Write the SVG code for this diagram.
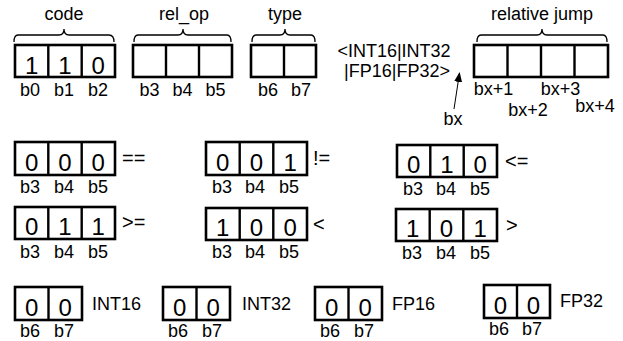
<svg xmlns="http://www.w3.org/2000/svg" width="623" height="341" viewBox="0 0 623 341">
<defs>
<style>
.box{fill:#fff;stroke:#000;stroke-width:2.6}
.div{stroke:#000;stroke-width:2.4}
.br{fill:none;stroke:#000;stroke-width:1.3}
.dg{font-family:"Liberation Sans",Arial,sans-serif;font-size:24px;text-anchor:middle;fill:#000}
.lb{font-family:"Liberation Sans",Arial,sans-serif;font-size:18px;text-anchor:middle;fill:#000}
.tt{font-family:"Liberation Sans",Arial,sans-serif;font-size:18px;fill:#000}
.op{font-family:"Liberation Sans",Arial,sans-serif;font-size:20px;fill:#000}
</style>
<marker id="ah" markerWidth="10" markerHeight="8" refX="9" refY="4" orient="auto" markerUnits="userSpaceOnUse">
<path d="M0,0 L10,4 L0,8 Z" fill="#000"/>
</marker>
</defs>
<rect width="623" height="341" fill="#fff"/>

<g id="code">
<text class="tt" x="64" y="20" text-anchor="middle">code</text>
<path class="br" d="M14,42 Q14,35 18,35 L59,35 Q64,35 64,29 Q64,35 69,35 L109,35 Q114,35 114,42"/>
<rect class="box" x="15" y="45" width="100" height="32"/>
<line class="div" x1="48.3" y1="45" x2="48.3" y2="77"/>
<line class="div" x1="81.7" y1="45" x2="81.7" y2="77"/>
<text class="dg" x="31.7" y="74">1</text><text class="dg" x="65" y="74">1</text><text class="dg" x="98.3" y="74">0</text>
<text class="lb" x="30" y="96">b0</text><text class="lb" x="64" y="96">b1</text><text class="lb" x="98" y="96">b2</text>
</g>

<g id="rel_op">
<text class="tt" x="184" y="20" text-anchor="middle">rel_op</text>
<path class="br" d="M134,42 Q134,35 138,35 L178,35 Q183,35 183,29 Q183,35 188,35 L227,35 Q231,35 231,42"/>
<rect class="box" x="133" y="45" width="99" height="32"/>
<line class="div" x1="166" y1="45" x2="166" y2="77"/>
<line class="div" x1="199" y1="45" x2="199" y2="77"/>
<text class="lb" x="149.5" y="96">b3</text><text class="lb" x="182.5" y="96">b4</text><text class="lb" x="215.5" y="96">b5</text>
</g>

<g id="type">
<text class="tt" x="285" y="20" text-anchor="middle">type</text>
<path class="br" d="M252,42 Q252,35 256,35 L280,35 Q285,35 285,29 Q285,35 290,35 L311,35 Q315,35 315,42"/>
<rect class="box" x="251" y="45" width="65" height="32"/>
<line class="div" x1="284" y1="45" x2="284" y2="77"/>
<text class="lb" x="268" y="96">b6</text><text class="lb" x="301" y="96">b7</text>
</g>

<g id="types_text">
<text class="tt" x="394" y="57" text-anchor="middle" font-size="17">&lt;INT16|INT32</text>
<text class="tt" x="397" y="77" text-anchor="middle" font-size="17">|FP16|FP32&gt;</text>
</g>

<g id="relative_jump">
<text class="tt" x="542" y="20" text-anchor="middle">relative jump</text>
<path class="br" d="M477,42 Q477,35 481,35 L537,35 Q542,35 542,29 Q542,35 547,35 L603,35 Q607,35 607,42"/>
<rect class="box" x="474" y="45" width="134" height="32"/>
<line class="div" x1="507.5" y1="45" x2="507.5" y2="77"/>
<line class="div" x1="541" y1="45" x2="541" y2="77"/>
<line class="div" x1="574.5" y1="45" x2="574.5" y2="77"/>
<text class="lb" x="493.5" y="95">bx+1</text>
<text class="lb" x="528" y="116">bx+2</text>
<text class="lb" x="560.5" y="95">bx+3</text>
<text class="lb" x="595" y="112">bx+4</text>
</g>

<g id="bx">
<text class="lb" x="453" y="125">bx</text>
</g>

<g id="connectors">
<line x1="454" y1="109" x2="459.5" y2="73" stroke="#000" stroke-width="1" marker-end="url(#ah)"/>
</g>

<g id="op_eq">
<rect class="box" x="15" y="142" width="100" height="33"/>
<line class="div" x1="48.3" y1="142" x2="48.3" y2="175"/>
<line class="div" x1="81.7" y1="142" x2="81.7" y2="175"/>
<text class="dg" x="31.7" y="171">0</text><text class="dg" x="65" y="171">0</text><text class="dg" x="98.3" y="171">0</text>
<text class="lb" x="30" y="193">b3</text><text class="lb" x="64" y="193">b4</text><text class="lb" x="98" y="193">b5</text>
<text class="op" x="122" y="165">==</text>
</g>

<g id="op_ne">
<rect class="box" x="206" y="142" width="101" height="33"/>
<line class="div" x1="239.7" y1="142" x2="239.7" y2="175"/>
<line class="div" x1="273.3" y1="142" x2="273.3" y2="175"/>
<text class="dg" x="222.8" y="171">0</text><text class="dg" x="256.5" y="171">0</text><text class="dg" x="290.2" y="171">1</text>
<text class="lb" x="222" y="193">b3</text><text class="lb" x="255" y="193">b4</text><text class="lb" x="289" y="193">b5</text>
<text class="op" x="313" y="165">!=</text>
</g>

<g id="op_le">
<rect class="box" x="397" y="145" width="100" height="32"/>
<line class="div" x1="430.3" y1="145" x2="430.3" y2="177"/>
<line class="div" x1="463.7" y1="145" x2="463.7" y2="177"/>
<text class="dg" x="413.7" y="173">0</text><text class="dg" x="447" y="173">1</text><text class="dg" x="480.3" y="173">0</text>
<text class="lb" x="413" y="195">b3</text><text class="lb" x="446" y="195">b4</text><text class="lb" x="480" y="195">b5</text>
<text class="op" x="505" y="168">&lt;=</text>
</g>

<g id="op_ge">
<rect class="box" x="15" y="207" width="100" height="32"/>
<line class="div" x1="48.3" y1="207" x2="48.3" y2="239"/>
<line class="div" x1="81.7" y1="207" x2="81.7" y2="239"/>
<text class="dg" x="31.7" y="235">0</text><text class="dg" x="65" y="235">1</text><text class="dg" x="98.3" y="235">1</text>
<text class="lb" x="30" y="258">b3</text><text class="lb" x="64" y="258">b4</text><text class="lb" x="98" y="258">b5</text>
<text class="op" x="122" y="229">&gt;=</text>
</g>

<g id="op_lt">
<rect class="box" x="206" y="208" width="101" height="32"/>
<line class="div" x1="239.7" y1="208" x2="239.7" y2="240"/>
<line class="div" x1="273.3" y1="208" x2="273.3" y2="240"/>
<text class="dg" x="222.8" y="236">1</text><text class="dg" x="256.5" y="236">0</text><text class="dg" x="290.2" y="236">0</text>
<text class="lb" x="222" y="258">b3</text><text class="lb" x="255" y="258">b4</text><text class="lb" x="289" y="258">b5</text>
<text class="op" x="313" y="231">&lt;</text>
</g>

<g id="op_gt">
<rect class="box" x="396" y="209" width="101" height="32"/>
<line class="div" x1="429.7" y1="209" x2="429.7" y2="241"/>
<line class="div" x1="463.3" y1="209" x2="463.3" y2="241"/>
<text class="dg" x="412.8" y="237">1</text><text class="dg" x="446.5" y="237">0</text><text class="dg" x="480.2" y="237">1</text>
<text class="lb" x="412" y="259">b3</text><text class="lb" x="446" y="259">b4</text><text class="lb" x="480" y="259">b5</text>
<text class="op" x="506" y="232">&gt;</text>
</g>

<g id="t_int16">
<rect class="box" x="15" y="287" width="67" height="33"/>
<line class="div" x1="48.5" y1="287" x2="48.5" y2="320"/>
<text class="dg" x="31.7" y="316">0</text><text class="dg" x="65.2" y="316">0</text>
<text class="lb" x="30" y="337">b6</text><text class="lb" x="64" y="337">b7</text>
<text class="tt" x="92" y="310">INT16</text>
</g>

<g id="t_int32">
<rect class="box" x="163" y="287" width="67" height="33"/>
<line class="div" x1="196.5" y1="287" x2="196.5" y2="320"/>
<text class="dg" x="179.7" y="316">0</text><text class="dg" x="213.2" y="316">0</text>
<text class="lb" x="178" y="337">b6</text><text class="lb" x="212" y="337">b7</text>
<text class="tt" x="242" y="310">INT32</text>
</g>

<g id="t_fp16">
<rect class="box" x="315" y="287" width="67" height="33"/>
<line class="div" x1="348.5" y1="287" x2="348.5" y2="320"/>
<text class="dg" x="331.7" y="316">0</text><text class="dg" x="365.2" y="316">0</text>
<text class="lb" x="330" y="337">b6</text><text class="lb" x="364" y="337">b7</text>
<text class="tt" x="392" y="310">FP16</text>
</g>

<g id="t_fp32">
<rect class="box" x="484" y="285" width="66" height="33"/>
<line class="div" x1="517" y1="285" x2="517" y2="318"/>
<text class="dg" x="500.5" y="314">0</text><text class="dg" x="533.5" y="314">0</text>
<text class="lb" x="499" y="335">b6</text><text class="lb" x="532" y="335">b7</text>
<text class="tt" x="560" y="307">FP32</text>
</g>
</svg>
